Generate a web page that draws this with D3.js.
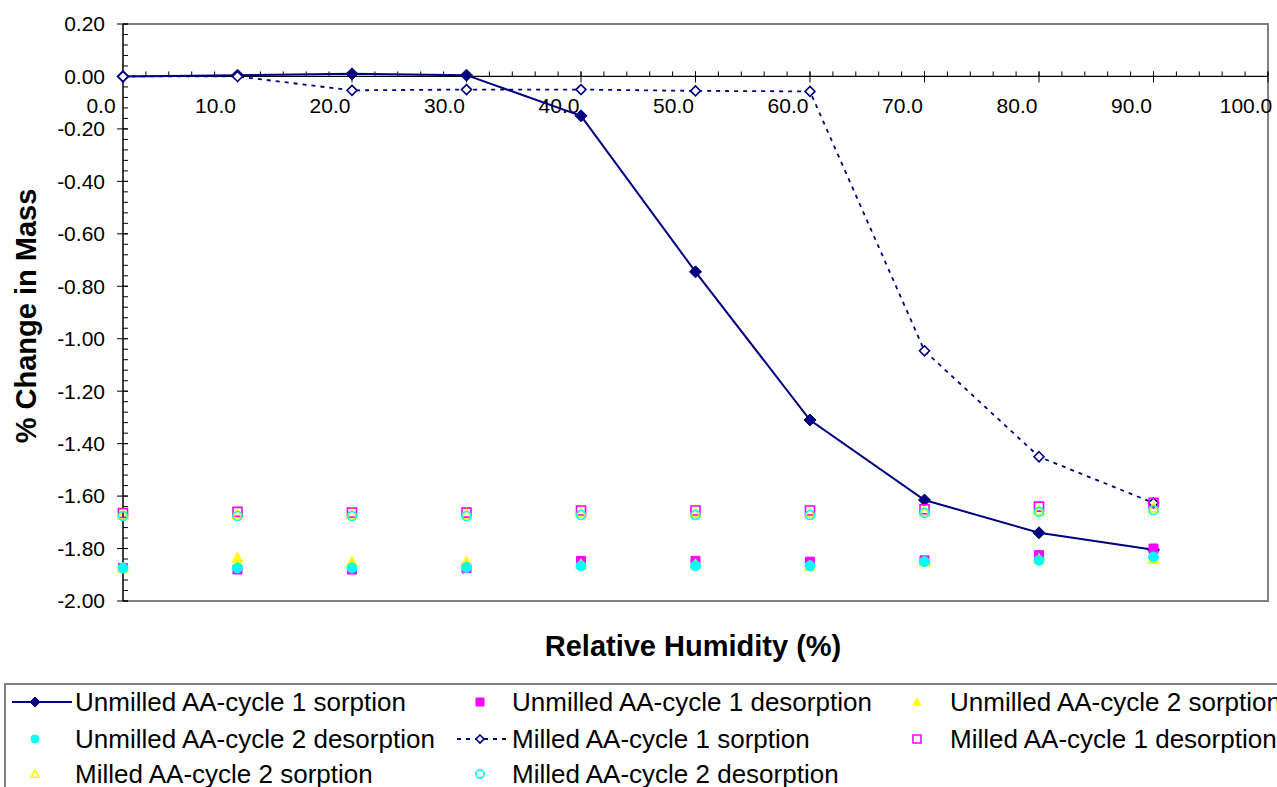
<!DOCTYPE html>
<html><head><meta charset="utf-8">
<script src="https://cdn.jsdelivr.net/npm/d3@7"></script>
<style>body{margin:0;background:#fff;}svg{display:block;font-family:"Liberation Sans",Arial,sans-serif;}</style>
</head><body>
<svg id="c" width="1277" height="787"></svg>
<script>
const rh = [0,10,20,30,40,50,60,70,80,90];
const unmilledC1Sorp = [0.00,0.005,0.01,0.005,-0.15,-0.745,-1.31,-1.615,-1.74,-1.805];
const unmilledC1Desorp = [-1.874,-1.88,-1.88,-1.875,-1.847,-1.847,-1.85,-1.845,-1.825,-1.80];
const unmilledC2Sorp = [-1.875,-1.836,-1.85,-1.85,-1.86,-1.86,-1.866,-1.85,-1.84,-1.84];
const unmilledC2Desorp = [-1.874,-1.874,-1.874,-1.872,-1.866,-1.866,-1.866,-1.85,-1.845,-1.832];
const milledC1Sorp = [0.00,0.00,-0.053,-0.05,-0.05,-0.055,-0.057,-1.046,-1.45,-1.626];
const milledC1Desorp = [-1.665,-1.66,-1.663,-1.663,-1.655,-1.655,-1.655,-1.65,-1.64,-1.626];
const milledC2Sorp = [-1.672,-1.67,-1.67,-1.67,-1.665,-1.665,-1.665,-1.66,-1.655,-1.645];
const milledC2Desorp = [-1.676,-1.676,-1.676,-1.676,-1.672,-1.672,-1.672,-1.664,-1.66,-1.653];
const xTicks = [0,10,20,30,40,50,60,70,80,90,100];
const yTicks = [0.2,0,-0.2,-0.4,-0.6,-0.8,-1.0,-1.2,-1.4,-1.6,-1.8,-2.0];
const seriesNames = ["Unmilled AA-cycle 1 sorption","Unmilled AA-cycle 1 desorption","Unmilled AA-cycle 2 sorption",
  "Unmilled AA-cycle 2 desorption","Milled AA-cycle 1 sorption","Milled AA-cycle 1 desorption",
  "Milled AA-cycle 2 sorption","Milled AA-cycle 2 desorption"];

const NAVY="#000080", MAG="#FF00FF", YEL="#FFFF00", CYA="#00FFFF";
const series = [
  {name:seriesNames[0], v:unmilledC1Sorp, line:"solid", sym:"diamond", fill:NAVY, stroke:NAVY, r:6},
  {name:seriesNames[1], v:unmilledC1Desorp, sym:"square", fill:MAG, stroke:MAG, r:4.5},
  {name:seriesNames[2], v:unmilledC2Sorp, sym:"triangle", fill:YEL, stroke:YEL, r:5.5},
  {name:seriesNames[3], v:unmilledC2Desorp, sym:"circle", fill:CYA, stroke:CYA, r:5},
  {name:seriesNames[4], v:milledC1Sorp, line:"dash", sym:"diamond", fill:"#fff", stroke:NAVY, r:5},
  {name:seriesNames[5], v:milledC1Desorp, sym:"square", fill:"none", stroke:MAG, r:4.5},
  {name:seriesNames[6], v:milledC2Sorp, sym:"triangle", fill:"none", stroke:YEL, r:5},
  {name:seriesNames[7], v:milledC2Desorp, sym:"circle", fill:"none", stroke:CYA, r:4.5},
];

const svg = d3.select("#c");
const L=123, R=1268, T=24, B=601;
const x = d3.scaleLinear().domain([0,100]).range([L,R]);
const y = d3.scaleLinear().domain([-2,0.2]).range([B,T]);

// plot border
svg.append("path").attr("d",`M${L},${T}H${R}V${B}H${L}`).attr("fill","none").attr("stroke","#808080").attr("stroke-width",2);

// y axis
const yMinor = d3.range(-2.0,0.2001,0.04).map(d=>+d.toFixed(2));
const gy = svg.append("g");
gy.selectAll("line.mi").data(yMinor).join("line").attr("x1",L).attr("x2",L+5)
  .attr("y1",d=>y(d)).attr("y2",d=>y(d)).attr("stroke","#000").attr("stroke-width",1);
gy.selectAll("line.ma").data(yTicks).join("line").attr("x1",L-6).attr("x2",L+5)
  .attr("y1",d=>y(d)).attr("y2",d=>y(d)).attr("stroke","#000").attr("stroke-width",1);
gy.append("line").attr("x1",L).attr("x2",L).attr("y1",T).attr("y2",B).attr("stroke","#000").attr("stroke-width",1.5);
gy.selectAll("text").data(yTicks).join("text").attr("x",L-18).attr("y",d=>y(d)).attr("dy","0.35em")
  .attr("text-anchor","end").attr("font-size",21).text(d=>d3.format(".2f")(d).replace("−","-"));

// x axis at y=0
const y0 = y(0);
const xMinor = d3.range(0,100.01,2);
const gx = svg.append("g");
gx.append("line").attr("x1",L).attr("x2",R).attr("y1",y0).attr("y2",y0).attr("stroke","#000").attr("stroke-width",1.2);
gx.selectAll("line.mi").data(xMinor).join("line").attr("x1",d=>x(d)).attr("x2",d=>x(d))
  .attr("y1",y0-5).attr("y2",y0).attr("stroke","#000");
gx.selectAll("line.ma").data(xTicks).join("line").attr("x1",d=>x(d)).attr("x2",d=>x(d))
  .attr("y1",y0-5).attr("y2",y0+6).attr("stroke","#000");
gx.selectAll("text").data(xTicks).join("text").attr("x",d=>x(d)-22).attr("y",y0+37)
  .attr("text-anchor","middle").attr("font-size",21).text(d=>d.toFixed(1));

// symbols
function symPath(type, r){
  if (type==="diamond") return `M0,${-r}L${r},0L0,${r}L${-r},0Z`;
  if (type==="square") return `M${-r},${-r}H${r}V${r}H${-r}Z`;
  if (type==="triangle") return `M0,${-r}L${r},${r*0.8}L${-r},${r*0.8}Z`;
  return d3.arc()({innerRadius:0,outerRadius:r,startAngle:0,endAngle:2*Math.PI});
}
function drawSym(g, s, cx, cy, r){
  const open = s.fill==="none"||s.fill==="#fff";
  g.append("path").attr("d",symPath(s.sym, r)).attr("transform",`translate(${cx},${cy})`)
    .attr("fill",s.fill).attr("stroke",s.stroke).attr("stroke-width",open?1.6:1);
}

const gp = svg.append("g");
series.forEach(s=>{
  const pts = rh.map((r,k)=>[x(r),y(s.v[k])]);
  if (s.line){
    gp.append("path").attr("d",d3.line()(pts)).attr("fill","none").attr("stroke",NAVY)
      .attr("stroke-width",s.line==="solid"?2:1.8).attr("stroke-dasharray",s.line==="dash"?"4,5":null);
  }
  pts.forEach(p=>drawSym(gp,s,p[0],p[1],s.r));
});

// axis titles
svg.append("text").attr("x",693).attr("y",656).attr("text-anchor","middle").attr("font-size",29).attr("font-weight","bold").text("Relative Humidity (%)");
svg.append("text").attr("transform","translate(36,316) rotate(-90)").attr("text-anchor","middle").attr("font-size",29).attr("font-weight","bold").text("% Change in Mass");

// legend
svg.append("rect").attr("x",5).attr("y",684).attr("width",1290).attr("height",120).attr("fill","none").attr("stroke","#808080").attr("stroke-width",2);
const colX = [35,480,917], textX=[75,512,950], rowY=[702,739,774];
series.forEach((s,i)=>{
  const c = i%3, cx = colX[c], cy = rowY[Math.floor(i/3)];
  const g = svg.append("g");
  if (s.line){
    g.append("line").attr("x1",cx-23).attr("x2",textX[c]-3).attr("y1",cy).attr("y2",cy).attr("stroke",NAVY)
      .attr("stroke-width",s.line==="solid"?2:1.8).attr("stroke-dasharray",s.line==="dash"?"4,5":null);
  }
  drawSym(g, s, cx, cy, s.line ? s.r-1 : 4);
  g.append("text").attr("x",textX[c]).attr("y",cy+9).attr("font-size",26).text(s.name);
});
</script>
</body></html>
